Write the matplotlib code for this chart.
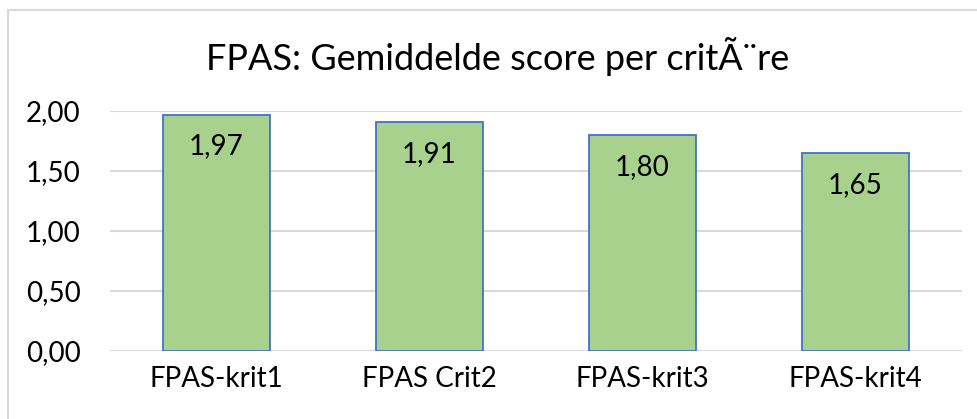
import matplotlib
matplotlib.use("Agg")
import matplotlib.pyplot as plt
from matplotlib.patches import Rectangle

categories = ["FPAS-krit1", "FPAS Crit2", "FPAS-krit3", "FPAS-krit4"]
values = [1.97, 1.91, 1.80, 1.65]
yticks = [0.0, 0.5, 1.0, 1.5, 2.0]
ytick_labels = ["0,00", "0,50", "1,00", "1,50", "2,00"]
title = "FPAS: Gemiddelde score per critÃ¨re"

plt.rcParams['font.family'] = ['Lato', 'DejaVu Sans']

W, H = 977, 419
fig = plt.figure(figsize=(W / 100, H / 100), dpi=100)
fig.patch.set_facecolor("white")

# outer chart border
fig.patches.append(Rectangle((8 / W, -0.1), 1.2, 1 - 10 / H + 0.1, transform=fig.transFigure,
                             fill=False, edgecolor="#D9D9D9", linewidth=1.5))

ax = fig.add_axes([110 / W, 1 - 351 / H, (962 - 110) / W, (351 - 111) / H])
x = range(len(categories))
ax.bar(x, values, width=0.5, color="#A9D18E", edgecolor="#4472C4", linewidth=1.3, zorder=3)
ax.set_xlim(-0.5, len(categories) - 0.5)
ax.set_ylim(0, 2.0)
ax.set_yticks(yticks)
ax.set_yticklabels(ytick_labels, fontsize=20)
ax.set_xticks(list(x))
ax.set_xticklabels(categories, fontsize=20)
ax.tick_params(length=0)
ax.tick_params(axis='y', pad=21)
ax.tick_params(axis='x', pad=11)
for s in ax.spines.values():
    s.set_visible(False)
ax.grid(axis='y', color="#D9D9D9", linewidth=1.5, zorder=0)
ax.set_axisbelow(True)

for xi, v in zip(x, values):
    ax.annotate(f"{v:.2f}".replace(".", ","), (xi, v), xytext=(0, -23), textcoords="offset points",
                ha="center", va="center", fontsize=20, color="black", zorder=4)

fig.text(498 / W, 1 - 56 / H, title, ha="center", va="center", fontsize=26)

fig.savefig("out.png", dpi=100, facecolor="white")
